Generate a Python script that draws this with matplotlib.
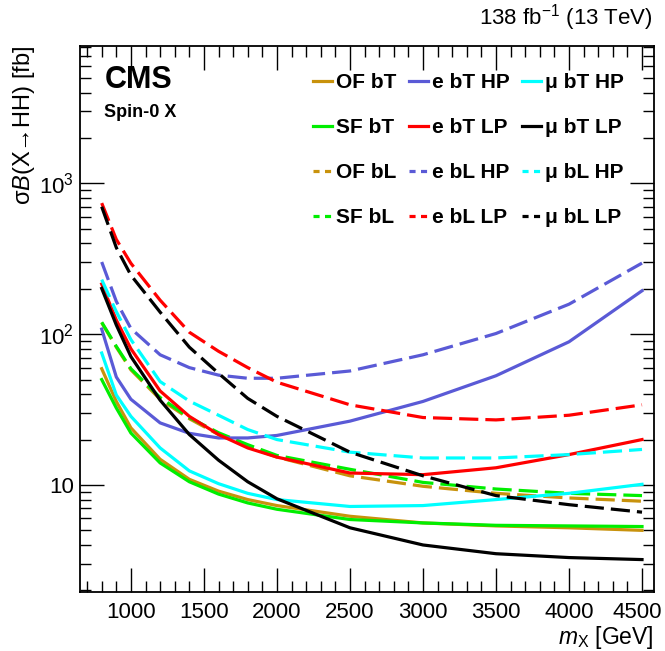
import numpy as np
import matplotlib
matplotlib.use("Agg")
import matplotlib.pyplot as plt
import matplotlib.transforms as mtransforms
from matplotlib.lines import Line2D
from matplotlib.ticker import FixedLocator, FuncFormatter, LogLocator, MultipleLocator

plt.rcParams['font.family'] = ['Liberation Sans', 'DejaVu Sans']
plt.rcParams['mathtext.fontset'] = 'custom'
plt.rcParams['mathtext.rm'] = 'Liberation Sans'
plt.rcParams['mathtext.it'] = 'Liberation Sans:italic'
plt.rcParams['mathtext.bf'] = 'Liberation Sans:bold'

# resonance mass points [GeV]
mass = [800, 900, 1000, 1200, 1400, 1600, 1800, 2000, 2500, 3000, 3500, 4000, 4500]
xticks = [1000, 1500, 2000, 2500, 3000, 3500, 4000, 4500]

# expected limits [fb]
of_bt = [59, 35.8, 23.9, 14.8, 10.9, 9.1, 8.0, 7.3, 6.2, 5.6, 5.35, 5.2, 5.0]
sf_bt = [50, 32.4, 22.1, 14.0, 10.5, 8.7, 7.6, 6.9, 5.9, 5.6, 5.4, 5.35, 5.3]
of_bl = [119, 82, 58, 37, 27.5, 21.6, 18.0, 15.3, 11.5, 9.8, 8.8, 8.2, 7.8]
sf_bl = [120, 83, 59, 38, 28, 22.2, 18.5, 15.7, 12.7, 10.4, 9.4, 8.8, 8.5]
e_bt_hp = [108, 52, 37, 25.8, 22, 20.5, 20.5, 21.3, 26.5, 35.8, 53, 89, 194]
e_bt_lp = [215, 124, 80, 42, 28.5, 21.6, 17.6, 15.3, 12.0, 11.7, 13.0, 15.9, 20.0]
e_bl_hp = [301, 165, 109, 73, 60, 53.5, 51, 51, 57, 73, 101, 158, 296]
e_bl_lp = [740, 425, 295, 168, 103, 77, 60, 48, 34, 28, 27, 29, 34]
mu_bt_hp = [75, 39.5, 28.5, 17.6, 12.4, 10.2, 8.8, 8.0, 7.2, 7.3, 8.0, 8.8, 10.1]
mu_bt_lp = [201, 115, 71, 36.5, 21.6, 14.6, 10.5, 8.1, 5.2, 4.0, 3.5, 3.3, 3.2]
mu_bl_hp = [230, 141, 92, 48.5, 36, 29, 23.3, 20, 16.5, 15.1, 15.1, 15.9, 17.2]
mu_bl_lp = [700, 375, 246, 140, 82, 55, 37.5, 28.5, 16.5, 11.5, 8.5, 7.4, 6.6]

c_of = '#c8920c'
c_sf = '#00ee00'
c_e_hp = '#5a5ad6'
c_e_lp = '#ff0000'
c_mu_hp = '#00ffff'
c_mu_lp = '#000000'

series = [
    ('OF bT', of_bt, c_of, '-'),
    ('SF bT', sf_bt, c_sf, '-'),
    ('OF bL', of_bl, c_of, '--'),
    ('SF bL', sf_bl, c_sf, '--'),
    ('e bT HP', e_bt_hp, c_e_hp, '-'),
    ('e bT LP', e_bt_lp, c_e_lp, '-'),
    ('e bL HP', e_bl_hp, c_e_hp, '--'),
    ('e bL LP', e_bl_lp, c_e_lp, '--'),
    ('μ bT HP', mu_bt_hp, c_mu_hp, '-'),
    ('μ bT LP', mu_bt_lp, c_mu_lp, '-'),
    ('μ bL HP', mu_bl_hp, c_mu_hp, '--'),
    ('μ bL LP', mu_bl_lp, c_mu_lp, '--'),
]

fig = plt.figure(figsize=(6.65, 6.51), dpi=100)
ax = fig.add_axes([0.120, 0.0906, 0.863, 0.8394])

# plot lines, and short-dash proxies for the legend
handles = []
for label, vals, col, ls in series:
    if ls == '-':
        ax.plot(mass, vals, color=col, lw=2.3, linestyle='-')
        handles.append(Line2D([], [], color=col, lw=2.3, linestyle='-', label=label))
    else:
        ax.plot(mass, vals, color=col, lw=2.3, linestyle=(0, (6, 2.2)))
        handles.append(Line2D([], [], color=col, lw=2.3, linestyle=(0, (1.9, 1.7)), label=label))

ax.set_yscale('log')
ax.set_xlim(650, 4580)
ax.set_ylim(1.95, 8200)

ax.xaxis.set_major_locator(FixedLocator(xticks))
ax.xaxis.set_minor_locator(MultipleLocator(100))
ax.xaxis.set_major_formatter(FuncFormatter(lambda v, p: '%d' % v))
ax.yaxis.set_major_locator(FixedLocator([10, 100, 1000]))
ax.yaxis.set_minor_locator(LogLocator(base=10, subs=np.arange(2, 10)))

def ylab(v, p):
    if v == 10:
        return '10'
    return r'$10^{%d}$' % int(round(np.log10(v)))

ax.yaxis.set_major_formatter(FuncFormatter(ylab))
ax.yaxis.set_minor_formatter(FuncFormatter(lambda v, p: ''))

ax.tick_params(which='both', direction='in', top=True, right=True, labelsize=16, width=1.0)
ax.tick_params(axis='x', which='major', length=17, pad=7)
ax.tick_params(axis='x', which='minor', length=8)
ax.tick_params(axis='y', which='major', length=17, pad=4)
ax.tick_params(axis='y', which='minor', length=8)
for sp in ax.spines.values():
    sp.set_linewidth(1.3)

# nudge the last x label so it stays inside the canvas
last = ax.xaxis.get_major_ticks()[len(xticks) - 1].label1
last.set_transform(last.get_transform() + mtransforms.ScaledTranslation(-5 / 100, 0, fig.dpi_scale_trans))

ax.set_xlabel(r'$m_{\mathrm{X}}$ [GeV]', fontsize=16.5, ha='right', va='top')
ax.xaxis.set_label_coords(1.0, -0.058)
ax.set_ylabel(r'σ$\mathit{B}$(X→HH) [fb]', fontsize=17, loc='top', labelpad=2)

ax.text(0.043, 0.965, 'CMS', transform=ax.transAxes, fontsize=22, fontweight='bold', va='top')
ax.text(0.043, 0.893, 'Spin-0 X', transform=ax.transAxes, fontsize=13, fontweight='bold', va='top')
fig.text(0.981, 1 - 33 / 651, r'138 fb$^{-1}$ (13 TeV)', fontsize=16, ha='right', va='bottom')

leg = ax.legend(handles=handles, ncol=3, frameon=False, loc='upper left',
                bbox_to_anchor=(313 / 665, 1 - 73 / 651), bbox_transform=fig.transFigure,
                prop={'size': 15, 'weight': 'bold'}, handlelength=0.9, handletextpad=0.2,
                columnspacing=0.6, labelspacing=1.25, borderpad=0, borderaxespad=0)

fig.savefig('out.png', dpi=100)
